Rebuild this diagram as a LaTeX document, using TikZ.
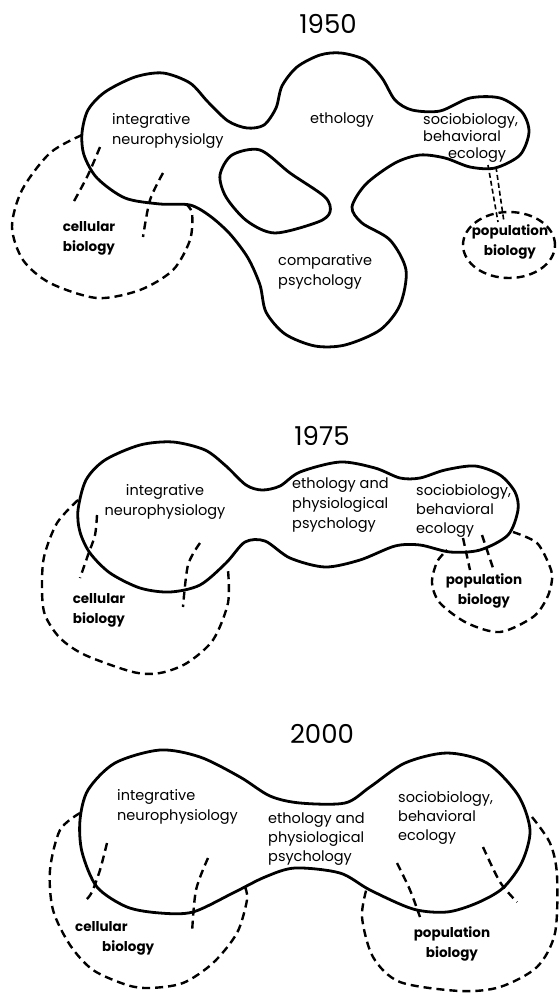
\documentclass[tikz,border=0pt]{standalone}
\usepackage{fontspec}
\setmainfont{Poppins}
\begin{document}
\begin{tikzpicture}[x=1pt, y=-1pt,
    outline/.style={line width=2.8pt, line join=round},
    dashline/.style={line width=2.4pt, dash pattern=on 8pt off 5pt},
    field/.style={anchor=north west, inner sep=0pt, align=left, font=\fontsize{14.5}{20}\selectfont},
    neighbour/.style={anchor=north, inner sep=0pt, align=center, font=\fontsize{13.5}{20}\selectfont\bfseries},
    year/.style={inner sep=0pt, font=\fontsize{26}{30}\selectfont}]
    \useasboundingbox (0,0) rectangle (559,994);
    % 1950
    \node[year] (year1950) at (328,24) {1950};
    \draw[outline] plot[smooth cycle] coordinates {(82,133) (88,110) (105,92) (135,77) (163,73)
      (190,83) (208,102) (228,121) (247,128) (264,125) (276,108) (282,86) (297,67) (320,55)
      (341,53) (365,60) (382,78) (395,100) (412,110) (440,111) (470,98) (500,98) (522,112)
      (529,132) (520,155) (495,168) (470,167) (445,158) (420,155) (395,163) (366,184)
      (352,207) (362,223) (390,240) (406,270) (400,305) (380,330) (345,345) (315,346)
      (285,334) (266,312) (260,285) (248,258) (230,234) (210,216) (190,205) (160,204)
      (125,198) (97,178) (84,155)};
    \draw[outline] plot[smooth cycle] coordinates {(220,175) (232,155) (260,150) (290,173)
      (325,197) (330,212) (318,222) (275,233) (247,221) (226,197)};
    \draw[dashline] plot[smooth] coordinates {(82,135) (50,153) (22,190) (12,227) (23,260)
      (50,283) (97,298) (140,290) (173,270) (190,240) (192,213) (185,203)};
    \draw[dashline] plot[smooth] coordinates {(100,147) (88,175) (73,203)};
    \draw[dashline] plot[smooth] coordinates {(163,173) (150,200) (143,237)};
    \draw[dashline] (509,245) ellipse [x radius=46pt, y radius=33pt];
    \draw[dashline, line width=1.6pt, dash pattern=on 5pt off 3pt] (488,165) -- (498,222);
    \draw[dashline, line width=1.6pt, dash pattern=on 5pt off 3pt] (496,167) -- (504,222);
    \node[field] (integ1950) at (112,113) {integrative\\neurophysiolgy};
    \node[field] (etho1950) at (310,113) {ethology};
    \node[field, font=\fontsize{14.5}{17}\selectfont] (socio1950) at (423,113) {sociobiology,\\behavioral\\\hspace*{25pt}ecology};
    \node[field] (comp1950) at (278,254) {comparative\\psychology};
    \node[neighbour] (cell1950) at (89,221) {cellular\\biology};
    \node[neighbour] (pop1950) at (510,224) {population\\biology};
    % 1975
    \node[year] (year1975) at (322,436) {1975};
    \draw[outline] plot[smooth cycle] coordinates {(78,510) (86,480) (105,460) (140,445)
      (173,442) (205,450) (226,466) (246,485) (262,490) (280,486) (300,472) (340,462)
      (375,468) (400,478) (420,478) (445,470) (475,466) (500,475) (515,492) (518,510)
      (508,535) (480,550) (450,552) (420,545) (395,546) (360,560) (325,567) (290,558)
      (265,541) (245,542) (226,563) (200,585) (170,592) (140,588) (110,573) (90,553)
      (80,532)};
    \draw[dashline] plot[smooth] coordinates {(78,500) (57,523) (44,557) (42,590) (45,615)
      (60,638) (85,655) (133,672) (160,673) (187,663) (213,640) (228,603) (228,570)};
    \draw[dashline] plot[smooth] coordinates {(97,515) (95,535) (88,555) (80,578)};
    \draw[dashline] plot[smooth] coordinates {(200,543) (188,565) (183,607)};
    \draw[dashline] plot[smooth] coordinates {(513,532) (537,543) (550,567) (552,580)
      (547,598) (533,617) (500,632) (467,623) (440,603) (432,583) (437,562) (447,550)};
    \draw[dashline] (463,538) -- (470,570);
    \draw[dashline] (482,535) -- (493,568);
    \node[field, align=center, anchor=north] (integ1975) at (165,484) {integrative\\neurophysiology};
    \node[field] (etho1975) at (292,478) {ethology and\\physiological\\psychology};
    \node[field, font=\fontsize{14.5}{19}\selectfont] (socio1975) at (416,484) {sociobiology,\\behavioral\\ecology};
    \node[neighbour] (cell1975) at (99,593) {cellular\\biology};
    \node[neighbour] (pop1975) at (484,573) {population\\biology};
    % 2000
    \node[year] (year2000) at (322,734) {2000};
    \draw[outline] plot[smooth cycle] coordinates {(80,820) (88,790) (115,763) (160,750)
      (200,757) (240,777) (270,796) (300,803) (345,803) (370,787) (405,763) (447,753)
      (487,763) (518,795) (530,830) (522,862) (503,888) (477,903) (447,912) (413,909)
      (370,890) (340,873) (295,868) (265,877) (233,893) (193,912) (160,913) (127,907)
      (97,887) (82,852)};
    \draw[dashline] plot[smooth] coordinates {(80,813) (60,830) (50,870) (53,910) (70,945)
      (93,970) (127,985) (150,988) (183,983) (213,963) (237,933) (247,900) (245,887)};
    \draw[dashline] plot[smooth] coordinates {(107,843) (100,870) (92,892) (86,900)};
    \draw[dashline] plot[smooth] coordinates {(208,858) (196,890) (192,933)};
    \draw[dashline] plot[smooth] coordinates {(532,817) (550,843) (557,875) (555,933)
      (537,967) (500,987) (460,991) (400,982) (373,957) (362,917) (367,887)};
    \draw[dashline] plot[smooth] coordinates {(397,863) (410,890) (420,917)};
    \draw[dashline] plot[smooth] coordinates {(483,847) (500,882) (517,902)};
    \node[field] (integ2000) at (117,789) {integrative\\neurophysiology};
    \node[field, font=\fontsize{14.5}{19}\selectfont] (etho2000) at (268,813) {ethology and\\physiological\\psychology};
    \node[field, font=\fontsize{14.5}{19}\selectfont] (socio2000) at (398,791) {sociobiology,\\behavioral\\ecology};
    \node[neighbour, anchor=north west, align=left] (cell2000) at (75,921) {cellular\\\hspace*{27pt}biology};
    \node[neighbour] (pop2000) at (452,926) {population\\biology};
\end{tikzpicture}
\end{document}
